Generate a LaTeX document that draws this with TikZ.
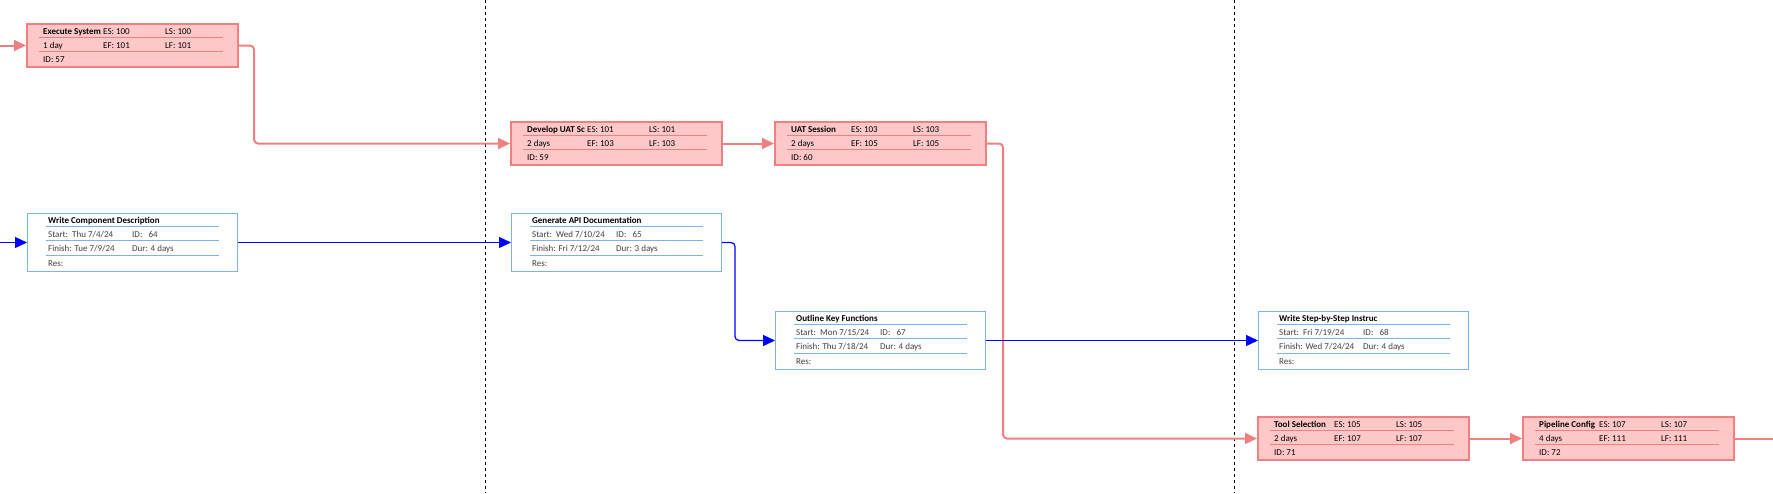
\documentclass[tikz,border=0pt]{standalone}
\usepackage{fontspec}
\setmainfont{Carlito}
\usepackage{xcolor}
\usepackage{tikz}
\usetikzlibrary{positioning,arrows.meta,calc}
\definecolor{critfill}{RGB}{255,200,200}
\definecolor{critline}{RGB}{240,128,128}
\definecolor{taskline}{RGB}{127,178,229}
\definecolor{linkblue}{RGB}{0,0,255}
\definecolor{labelgray}{RGB}{70,64,58}
\newcommand{\taskfont}{\fontsize{9}{11}\selectfont}
\newcommand{\crittask}[9]{%
  \begin{scope}[shift={(#1,#2)}]
    \node[crit] (task#3) at (0,0) {};
    \draw[critrule] (13,14.5) -- (197,14.5);
    \draw[critrule] (13,28.5) -- (197,28.5);
    \begin{scope}
      \clip (13,0) rectangle (74,14);
      \node[cell,font=\taskfont\bfseries] at (17,11.5) {#4};
    \end{scope}
    \node[cell] at (77,11.5) {ES: #6};
    \node[cell] at (139,11.5) {LS: #8};
    \node[cell] at (17,25.5) {#5};
    \node[cell] at (77,25.5) {EF: #7};
    \node[cell] at (139,25.5) {LF: #9};
    \node[cell] at (17,39) {ID: #3};
  \end{scope}}
\newcommand{\plantask}[7]{%
  \begin{scope}[shift={(#1,#2)}]
    \node[plan] (task#3) at (0,0) {};
    \foreach \r in {13,27.5,42} \draw[planrule] (19,\r) -- (192,\r);
    \node[cell,font=\taskfont\bfseries] at (21,10) {#4};
    \node[cell,labelgray] at (21,24) {Start:\ \ #5};
    \node[cell,labelgray] at (105,24) {ID:\ \ \ #3};
    \node[cell,labelgray] at (21,38.5) {Finish: #6};
    \node[cell,labelgray] at (105,38.5) {Dur: #7};
    \node[cell,labelgray] at (21,53) {Res:};
  \end{scope}}
\begin{document}
\begin{tikzpicture}[x=1pt,y=-1pt,
  crit/.style={draw=critline, fill=critfill, line width=2pt, anchor=north west,
               minimum width=211pt, minimum height=43pt, inner sep=0pt},
  plan/.style={draw=taskline, fill=white, line width=1pt, anchor=north west,
               minimum width=210pt, minimum height=58pt, inner sep=0pt},
  critrule/.style={draw=critline, line width=1pt},
  planrule/.style={draw=taskline, line width=1pt},
  cell/.style={anchor=base west, inner sep=0pt, font=\taskfont},
  critlink/.style={draw=critline, line width=2pt, rounded corners=4pt, -{Triangle[length=12pt,width=11pt]}},
  planlink/.style={draw=linkblue, line width=1.2pt, rounded corners=4pt, -{Triangle[length=12pt,width=11pt]}},
  period/.style={dashed, line width=0.8pt}
]
  \useasboundingbox (0,0) rectangle (1773,493);
  \draw[period] (485,0) -- (485,493);
  \draw[period] (1234,0) -- (1234,493);

  \crittask{26}{23}{57}{Execute System}{1 day}{100}{101}{100}{101}
  \crittask{510}{121}{59}{Develop UAT Sc}{2 days}{101}{103}{101}{103}
  \crittask{774}{121}{60}{UAT Session}{2 days}{103}{105}{103}{105}
  \crittask{1257}{416}{71}{Tool Selection}{2 days}{105}{107}{105}{107}
  \crittask{1522}{416}{72}{Pipeline Config}{4 days}{107}{111}{107}{111}

  \plantask{27}{213}{64}{Write Component Description}{Thu 7/4/24}{Tue 7/9/24}{4 days}
  \plantask{511}{213}{65}{Generate API Documentation}{Wed 7/10/24}{Fri 7/12/24}{3 days}
  \plantask{775}{311}{67}{Outline Key Functions}{Mon 7/15/24}{Thu 7/18/24}{4 days}
  \plantask{1258}{311}{68}{Write Step-by-Step Instruc}{Fri 7/19/24}{Wed 7/24/24}{4 days}

  \coordinate (leftedge) at (0,0);
  \coordinate (rightedge) at (1773,0);
  \draw[critlink] (task57.west -| leftedge) -- (task57.west);
  \draw[critlink] (task57.east) -- ++(15,0) |- (task59.west);
  \draw[critlink] (task59) -- (task60);
  \draw[critlink] (task60.east) -- ++(16,0) |- (task71.west);
  \draw[critlink] (task71) -- (task72);
  \draw[critline, line width=2pt] (task72.east) -- (task72.east -| rightedge);

  \draw[planlink] (task64.west -| leftedge) -- (task64.west);
  \draw[planlink] (task64) -- (task65);
  \draw[planlink] (task65.east) -- ++(13,0) |- (task67.west);
  \draw[planlink] (task67) -- (task68);
\end{tikzpicture}
\end{document}
